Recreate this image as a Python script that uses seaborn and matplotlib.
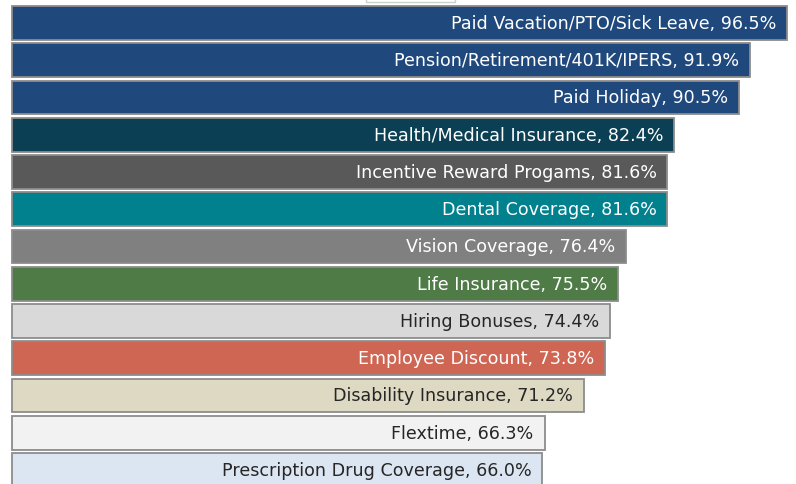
import numpy as np
import pandas as pd
import matplotlib
matplotlib.use("Agg")
import matplotlib.pyplot as plt
import seaborn as sns
from matplotlib.patches import Rectangle

benefits = [
    "Paid Vacation/PTO/Sick Leave",
    "Pension/Retirement/401K/IPERS",
    "Paid Holiday",
    "Health/Medical Insurance",
    "Incentive Reward Progams",
    "Dental Coverage",
    "Vision Coverage",
    "Life Insurance",
    "Hiring Bonuses",
    "Employee Discount",
    "Disability Insurance",
    "Flextime",
    "Prescription Drug Coverage",
]
percent = [96.5, 91.9, 90.5, 82.4, 81.6, 81.6, 76.4, 75.5, 74.4, 73.8, 71.2, 66.3, 66.0]

bar_colors = ["#1f497d", "#1f497d", "#1f497d", "#0b3f53", "#595959", "#00818d",
              "#808080", "#4e7b46", "#d9d9d9", "#cf6553", "#ddd9c3", "#f2f2f2", "#dce6f2"]
text_colors = ["white", "white", "white", "white", "white", "white",
               "white", "white", "#262626", "white", "#262626", "#262626", "#262626"]

df = pd.DataFrame({"benefit": benefits, "percent": percent})

sns.set_theme(style="white")
plt.rcParams["font.family"] = ["DejaVu Sans"]

fig = plt.figure(figsize=(7.96, 4.85), dpi=100)
ax = fig.add_axes([0, 0, 1, 1])

sns.barplot(data=df, x="percent", y="benefit", hue="benefit", palette=bar_colors,
            orient="h", width=0.91, legend=False, ax=ax, saturation=1)

for p in ax.patches:
    p.set_edgecolor("#8c8c8c")
    p.set_linewidth(1.3)

for i, (name, val) in enumerate(zip(benefits, percent)):
    ax.text(val - 1.35, i, f"{name}, {val:.1f}%", ha="right", va="center",
            color=text_colors[i], fontsize=12.6)

ax.set_xlim(-1.49, 97.6)
ax.set_ylim(12.376, -0.644)
ax.set_axis_off()

fig.patches.append(Rectangle((366 / 796, 1 - 3 / 485), 89 / 796, 0.02,
                             transform=fig.transFigure, facecolor="white",
                             edgecolor="#c9d1c9", linewidth=1, zorder=5))

fig.savefig("out.png", dpi=100)
